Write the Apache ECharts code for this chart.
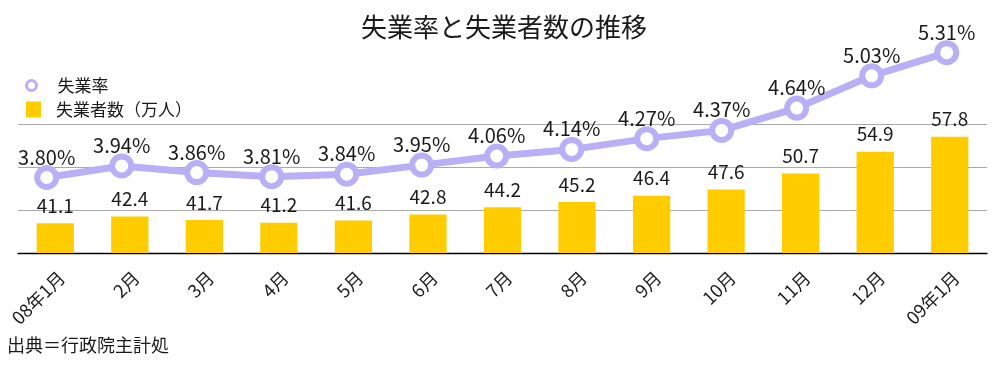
<!DOCTYPE html>
<html><head><meta charset="utf-8">
<script src="https://cdn.jsdelivr.net/npm/echarts@6/dist/echarts.min.js"></script>
<style>html,body{margin:0;padding:0;background:#fff}#c{width:996px;height:369px}</style>
</head><body><div id="c"></div>
<script>
const categories = ['08年1月','2月','3月','4月','5月','6月','7月','8月','9月','10月','11月','12月','09年1月'];
const unemploymentRate = [3.80,3.94,3.86,3.81,3.84,3.95,4.06,4.14,4.27,4.37,4.64,5.03,5.31];
const unemployedCount = [41.1,42.4,41.7,41.2,41.6,42.8,44.2,45.2,46.4,47.6,50.7,54.9,57.8];
const seriesNames = ['失業率','失業者数（万人）'];
const titleText = '失業率と失業者数の推移';
const sourceText = '出典＝行政院主計処';

const FONT = '"Noto Sans CJK JP", "Noto Sans", sans-serif';
const LINE_C = '#B8AFF7';
const BAR_C = '#FFCC00';
const TXT = '#1a1a1a';

const chart = echarts.init(document.getElementById('c'), null, {renderer:'canvas'});
chart.setOption({
  animation:false,
  textStyle:{fontFamily:FONT},
  title:[
    {text:titleText, left:356, top:9, textStyle:{fontFamily:FONT,fontSize:26,fontWeight:'normal',color:TXT}},
    {text:sourceText, left:2, top:331, textStyle:{fontFamily:FONT,fontSize:18,fontWeight:'normal',color:TXT}}
  ],
  legend:[
    {data:[{name:seriesNames[0], icon:'circle', itemStyle:{color:'#fff',borderColor:LINE_C,borderWidth:3}}],
     left:20, top:72, itemWidth:10, itemHeight:10, itemGap:0,
     textStyle:{fontFamily:FONT,fontSize:17,color:TXT,padding:[0,0,0,16]}},
    {data:[{name:seriesNames[1], icon:'rect'}],
     left:21, top:96, itemWidth:15, itemHeight:16, itemGap:0,
     textStyle:{fontFamily:FONT,fontSize:17,color:TXT,padding:[0,0,0,10]}}
  ],
  grid:[
    {left:18, right:9, top:124, bottom:116},
    {left:46.7, right:49.3, top:40, bottom:116}
  ],
  xAxis:[
    {type:'category', gridIndex:0, data:categories, boundaryGap:true,
     axisLine:{lineStyle:{color:'#000',width:1.3}}, axisTick:{show:false},
     axisLabel:{rotate:45, interval:0, margin:15, verticalAlign:'top', fontFamily:FONT, fontSize:18, color:TXT}},
    {type:'category', gridIndex:1, data:categories, boundaryGap:false, show:false}
  ],
  yAxis:[
    {type:'value', gridIndex:0, min:35.35, max:60.25, show:false},
    {type:'value', gridIndex:1, min:2.887, max:5.463, show:false},
    {type:'value', gridIndex:0, min:0, max:3, interval:1,
     axisLine:{show:false}, axisTick:{show:false}, axisLabel:{show:false},
     splitLine:{show:true, lineStyle:{color:'#aaaaaa', width:1}}}
  ],
  series:[
    {name:seriesNames[1], type:'bar', xAxisIndex:0, yAxisIndex:0, data:unemployedCount,
     barWidth:'50%', itemStyle:{color:BAR_C},
     label:{show:true, position:'top', distance:8, fontFamily:FONT, fontSize:19, color:TXT,
            formatter:p=>p.value.toFixed(1)}},
    {name:seriesNames[0], type:'line', xAxisIndex:1, yAxisIndex:1, data:unemploymentRate,
     clip:false, z:5,
     lineStyle:{color:LINE_C, width:7},
     symbol:'circle', symbolSize:19, showAllSymbol:true,
     itemStyle:{color:'#fff', borderColor:LINE_C, borderWidth:6},
     label:{show:true, position:'top', distance:-2, fontFamily:FONT, fontSize:20, color:TXT,
            formatter:p=>p.value.toFixed(2)+'%'}}
  ]
});
</script></body></html>
